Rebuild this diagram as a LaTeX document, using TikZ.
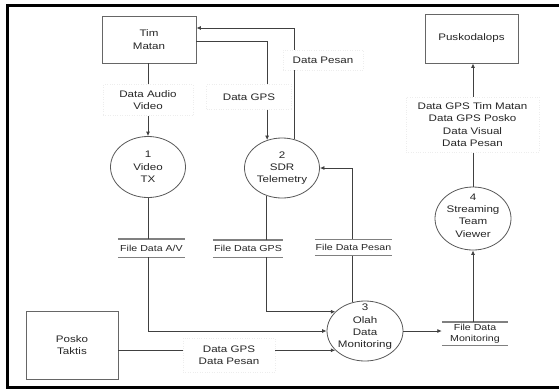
\documentclass[tikz,border=0pt]{standalone}
\usepackage{fontspec}
\setmainfont{Liberation Sans}[FakeStretch=1.22]
\usetikzlibrary{arrows.meta,shapes.geometric}
\begin{document}
\begin{tikzpicture}[x=1pt,y=-1pt,
  every node/.style={font=\fontsize{9.5}{12.3}\selectfont, text=black!85},
  ent/.style={draw=black!60, line width=0.9pt, inner sep=0, align=center},
  proc/.style={ellipse, draw=black!65, line width=0.8pt, inner sep=0},
  flow/.style={draw=black!75, line width=0.8pt, -{Latex[length=4.5pt,width=4pt]}},
  plain/.style={draw=black!75, line width=0.8pt},
  lab/.style={fill=white, draw=black!7, dotted, inner sep=0, align=center},
  store/.style={inner sep=0, align=center, font=\fontsize{8.7}{10.8}\selectfont},
  storeline/.style={draw=black!50, line width=1.4pt}]
\useasboundingbox (0,0) rectangle (559,389);
\clip (0,0) rectangle (559,389);
\fill[white] (0,0) rectangle (559,389);
\draw[line width=3pt] (7,5.5) rectangle (575,387);

% entities
\node[ent, minimum width=94pt, minimum height=47pt] (tim) at (149,39.5) {Tim\\Matan};
\node[ent, minimum width=93pt, minimum height=49pt] (pusk) at (471.5,38.5) {Puskodalops};
\node[ent, minimum width=92pt, minimum height=68pt] (posko) at (72,345) {Posko\\Taktis};

% processes
\node[proc, minimum width=75pt, minimum height=61pt] (p1) at (148,167) {};
\node[align=center] (t1) at (p1) {1\\Video\\TX};
\node[proc, minimum width=75pt, minimum height=60pt] (p2) at (282,168) {};
\node[align=center] (t2) at (p2) {2\\SDR\\Telemetry};
\node[proc, minimum width=76pt, minimum height=60pt] (p3) at (365,331) {};
\node[align=center] (t3) at ([yshift=4pt]p3) {3\\Olah\\Data\\Monitoring};
\node[proc, minimum width=76pt, minimum height=63pt] (p4) at (473,218.5) {};
\node[align=center] (t4) at ([yshift=3pt]p4) {4\\Streaming\\Team\\Viewer};

% data stores
\node[store, minimum width=67pt, minimum height=18pt] (sav) at (151.5,248) {File Data A/V};
\node[store, minimum width=70pt, minimum height=17pt] (sgps) at (248,248.5) {File Data GPS};
\node[store, minimum width=77pt, minimum height=16pt] (spes) at (353.5,247.5) {File Data Pesan};
\node[store, minimum width=66pt, minimum height=23pt] (smon) at (475,333.5) {File Data\\Monitoring};
\foreach \s in {sav,sgps,spes,smon}{
  \draw[storeline] (\s.north west) -- (\s.north east);
  \draw[storeline] (\s.south west) -- (\s.south east);
}

% flows
\draw[flow] (p1.north |- tim.south) -- (p1.north);
\draw[flow] ([yshift=-1.5pt]tim.east) -| (p2.118.6);
\draw[flow] (p2.67) |- ([yshift=11.5pt]tim.east);
\draw[plain] (p1.south) -- (p1.south |- sav.north);
\draw[flow] (p1.south |- sav.south) |- (p3.west);
\draw[plain] (p2.241.4) -- (p2.241.4 |- sgps.north);
\draw[flow] (p2.241.4 |- sgps.south) |- (p3.147);
\draw[flow] ([xshift=-1.5pt]spes.north) |- (p2.east);
\draw[plain] ([xshift=-1.5pt]spes.south) -- ([xshift=-1.5pt]spes.south |- p3.115);
\draw[flow] (posko.east |- p3.213) -- (p3.213);
\draw[flow] (p3.east) -- (smon.west |- p3.east);
\draw[flow] (p4.south |- smon.north) -- (p4.south);
\draw[flow] (p4.north) -- (p4.north |- pusk.south);

% flow labels
\node[lab, minimum width=90pt, minimum height=31pt] (l1) at (148,100) {Data Audio\\Video};
\node[lab, minimum width=85pt, minimum height=25pt] (l2) at (249,97) {Data GPS};
\node[lab, minimum width=80pt, minimum height=20pt] (l3) at (323,60) {Data Pesan};
\node[lab, minimum width=133pt, minimum height=55pt] (l4) at (472.5,124.5) {Data GPS Tim Matan\\Data GPS Posko\\Data Visual\\Data Pesan};
\node[lab, minimum width=92pt, minimum height=34pt] (l5) at (229,355) {Data GPS\\Data Pesan};
\end{tikzpicture}
\end{document}
